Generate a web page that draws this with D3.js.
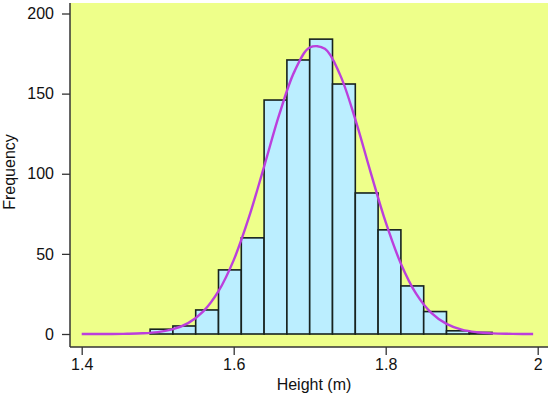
<!DOCTYPE html>
<html>
<head>
<meta charset="utf-8">
<script src="https://cdn.jsdelivr.net/npm/d3@7"></script>
<style>
body { margin: 0; background: #fff; }
svg text { font-family: "Liberation Sans", Arial, sans-serif; fill: #111; }
</style>
</head>
<body>
<svg id="chart" width="550" height="395"></svg>
<script>
// histogram bins (left edges, metres) and counts
var binStart = [1.49, 1.52, 1.55, 1.58, 1.61, 1.64, 1.67, 1.70, 1.73, 1.76, 1.79, 1.82, 1.85, 1.88, 1.91];
var counts   = [3, 5, 15, 40, 60, 146, 171, 184, 156, 88, 65, 30, 14, 2, 1];
var binWidth = 0.03;

// fitted curve
var curveX = [1.40, 1.42, 1.44, 1.46, 1.48, 1.50, 1.52, 1.54, 1.56, 1.58, 1.60, 1.62, 1.64, 1.66, 1.68, 1.70,
              1.72, 1.74, 1.76, 1.78, 1.80, 1.82, 1.84, 1.86, 1.88, 1.90, 1.92, 1.94, 1.96, 1.98, 1.994];
var curveY = [0, 0, 0.04, 0.15, 0.44, 1.2, 3.0, 6.8, 14.1, 26.7, 46.1, 72.7, 104.5, 137.0, 163.9, 178.8,
              178.0, 161.7, 133.9, 101.2, 69.8, 43.9, 25.2, 13.2, 6.3, 2.7, 1.1, 0.4, 0.13, 0.04, 0.01];

var xTicks = [1.4, 1.6, 1.8, 2];
var yTicks = [0, 50, 100, 150, 200];

var svg = d3.select("#chart");
var pLeft = 70, pRight = 548, pTop = 3, pBottom = 347;

var x = d3.scaleLinear().domain([1.4, 2.0]).range([81.7, 537.7]);
var y = d3.scaleLinear().domain([0, 200]).range([334, 13.5]);

// plot background
svg.append("rect")
	.attr("x", pLeft).attr("y", pTop)
	.attr("width", pRight - pLeft).attr("height", pBottom - pTop)
	.attr("fill", "#eeff8a");

// bars
svg.selectAll("rect.bar")
	.data(counts)
	.enter().append("rect")
	.attr("class", "bar")
	.attr("x", function(d, i) { return x(binStart[i]); })
	.attr("width", function(d, i) { return x(binStart[i] + binWidth) - x(binStart[i]); })
	.attr("y", function(d) { return y(d); })
	.attr("height", function(d) { return y(0) - y(d); })
	.attr("fill", "#bbeeff")
	.attr("stroke", "#17221f")
	.attr("stroke-width", 1.6);

// curve
var line = d3.line()
	.x(function(d, i) { return x(curveX[i]); })
	.y(function(d) { return y(d); })
	.curve(d3.curveCatmullRom);

svg.append("path")
	.attr("d", line(curveY))
	.attr("fill", "none")
	.attr("stroke", "#bb3fdc")
	.attr("stroke-width", 2.4);

// axes
var yAxis = d3.axisLeft(y).tickValues(yTicks).tickSize(8).tickPadding(8).tickSizeOuter(0);
var xAxis = d3.axisBottom(x).tickValues(xTicks).tickFormat(d3.format("")).tickSize(8).tickPadding(4).tickSizeOuter(0);

var gy = svg.append("g").attr("transform", "translate(" + pLeft + ",0)").call(yAxis);
var gx = svg.append("g").attr("transform", "translate(0," + pBottom + ")").call(xAxis);

[gy, gx].forEach(function(g) {
	g.select(".domain").remove();
	g.selectAll(".tick line").attr("stroke", "#333").attr("stroke-width", 1.3);
	g.selectAll(".tick text").attr("font-size", 16).attr("fill", "#111")
		.style("font-family", "'Liberation Sans', Arial, sans-serif");
});

// axis lines
svg.append("line").attr("x1", pLeft).attr("x2", pLeft).attr("y1", pTop).attr("y2", pBottom)
	.attr("stroke", "#333").attr("stroke-width", 1.5);
svg.append("line").attr("x1", pLeft).attr("x2", pRight).attr("y1", pBottom).attr("y2", pBottom)
	.attr("stroke", "#333").attr("stroke-width", 1.5);

// titles
svg.append("text")
	.attr("x", 314).attr("y", 390)
	.attr("text-anchor", "middle")
	.attr("font-size", 16)
	.text("Height (m)");

svg.append("text")
	.attr("transform", "translate(15,172) rotate(-90)")
	.attr("text-anchor", "middle")
	.attr("font-size", 16)
	.text("Frequency");
</script>
</body>
</html>
